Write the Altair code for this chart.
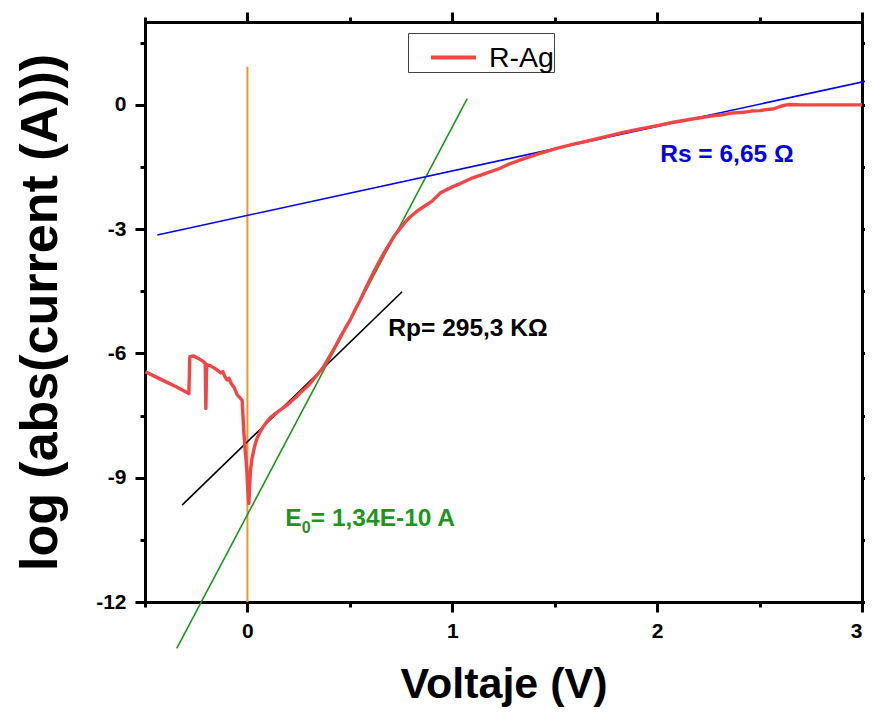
import altair as alt
import pandas as pd

# ---------------- data ----------------
voltage = [-0.498, -0.45, -0.40, -0.35, -0.30, -0.286, -0.281, -0.262, -0.24, -0.22,
           -0.206, -0.203, -0.199, -0.18, -0.16, -0.148, -0.13, -0.12, -0.11, -0.10,
           -0.09, -0.08, -0.065, -0.05, -0.04, -0.026, -0.018, -0.010, -0.005, 0.002,
           0.007, 0.011, 0.015, 0.022, 0.031, 0.039, 0.047, 0.063, 0.08, 0.096,
           0.112, 0.14, 0.161, 0.19, 0.21, 0.24, 0.259, 0.285, 0.307, 0.34,
           0.372, 0.405, 0.43, 0.454, 0.478, 0.502, 0.525, 0.551, 0.575, 0.60,
           0.625, 0.65, 0.675, 0.698, 0.72, 0.746, 0.77, 0.795, 0.83, 0.86,
           0.90, 0.941, 1.0, 1.039, 1.10, 1.153, 1.234, 1.267, 1.35, 1.429,
           1.51, 1.592, 1.672, 1.755, 1.84, 1.917, 2.0, 2.08, 2.15, 2.21,
           2.28, 2.32, 2.36, 2.42, 2.46, 2.502, 2.54, 2.566, 2.60, 2.63,
           2.649, 2.70, 2.80, 2.90, 3.0]
log_current = [-6.44, -6.56, -6.68, -6.80, -6.93, -6.97, -6.08, -6.06, -6.12, -6.18,
               -6.24, -7.33, -6.27, -6.30, -6.36, -6.40, -6.47, -6.44, -6.56, -6.64,
               -6.60, -6.72, -6.82, -7.00, -7.05, -7.13, -7.85, -8.40, -8.65, -9.30,
               -9.62, -9.20, -8.82, -8.55, -8.33, -8.17, -8.05, -7.88, -7.75, -7.64,
               -7.55, -7.44, -7.36, -7.26, -7.17, -7.04, -6.94, -6.83, -6.72, -6.52,
               -6.32, -6.04, -5.82, -5.60, -5.39, -5.19, -4.95, -4.71, -4.45, -4.20,
               -3.95, -3.72, -3.50, -3.32, -3.14, -2.98, -2.83, -2.70, -2.56, -2.46,
               -2.33, -2.13, -1.98, -1.90, -1.76, -1.67, -1.53, -1.45, -1.30, -1.17,
               -1.05, -0.95, -0.86, -0.76, -0.66, -0.58, -0.50, -0.42, -0.36, -0.31,
               -0.26, -0.24, -0.20, -0.18, -0.15, -0.14, -0.11, -0.10, -0.04, 0.0,
               0.01, 0.0, 0.0, 0.0, 0.0]
series_name = "R-Ag"

# fitted straight lines (end points)
rs_fit_v = [-0.44, 3.1]
rs_fit_logi = [-3.14, 0.66]
rp_fit_v = [-0.319, 0.755]
rp_fit_logi = [-9.66, -4.51]
e0_fit_v = [-0.345, 1.073]
e0_fit_logi = [-13.12, 0.15]
zero_v = [0.0, 0.0]
zero_logi = [-12.0, 0.92]

# annotations: (voltage, log current) anchor of each label
rs_label = ["Rs = 6,65 \u03a9"]
rs_pos = [2.015, -1.38]
rp_label = ["Rp= 295,3 K\u03a9"]
rp_pos = [0.688, -5.58]
e0_main = ["E"]
e0_sub = ["0"]
e0_rest = ["= 1,34E-10 A"]
e0_pos = [0.185, -10.17]

x_ticks = [-0.5, 0, 0.5, 1, 1.5, 2, 2.5, 3]
y_ticks = [-12, -10.5, -9, -7.5, -6, -4.5, -3, -1.5, 0, 1.5]
x_domain = [-0.5, 3.0]
y_domain = [-12.0, 2.0]

# ---------------- styling ----------------
FONT = "Liberation Sans"
RED = "#f24545"
GREEN = "#1e961e"
BLUE = "#0000ee"
ORANGE = "#f7931e"
ANN_SIZE = 24.5

xs = alt.Scale(domain=x_domain, nice=False, zero=False)
ys = alt.Scale(domain=y_domain, nice=False, zero=False)

common_axis = dict(
    domainColor="black", domainWidth=3, domainCap="square",
    tickColor="black", tickWidth=3, grid=False,
    labelFont=FONT, labelFontSize=21, labelFontWeight="bold", labelColor="black",
    labelOverlap=False,
    titleFont=FONT, titleFontWeight="bold", titleColor="black",
)


def x_axis(orient, show):
    kw = dict(common_axis)
    if show:
        kw.update(title="Voltaje (V)", titleFontSize=43, titlePadding=22,
                  labelPadding=8, labelFlush=True,
                  labelExpr="datum.value % 1 == 0 ? '' + datum.value : ''")
    else:
        kw.update(title=None, labels=False)
    return alt.Axis(values=x_ticks, orient=orient,
                    tickSize={"condition": {"test": "datum.value % 1 != 0", "value": 5},
                              "value": 10}, **kw)


def y_axis(orient, show):
    kw = dict(common_axis)
    if show:
        kw.update(title="log (abs(current (A)))", titleFontSize=52, titlePadding=28,
                  labelPadding=9, labelFlush=False,
                  labelExpr="datum.value % 3 == 0 ? '' + datum.value : ''")
    else:
        kw.update(title=None, labels=False)
    return alt.Axis(values=y_ticks, orient=orient,
                    tickSize={"condition": {"test": "datum.value % 3 != 0", "value": 5},
                              "value": 10}, **kw)


# ---------------- layers ----------------
curve_df = pd.DataFrame({"v": voltage, "logi": log_current,
                         "i": list(range(len(voltage))),
                         "series": [series_name] * len(voltage)})

curve = alt.Chart(curve_df).mark_line(strokeWidth=3.4, strokeJoin="round").encode(
    x=alt.X("v:Q", scale=xs, axis=x_axis("bottom", True)),
    y=alt.Y("logi:Q", scale=ys, axis=y_axis("left", True)),
    order="i:Q",
    color=alt.Color("series:N",
                    scale=alt.Scale(domain=[series_name], range=[RED]),
                    legend=alt.Legend(orient="none", legendX=263, legendY=11,
                                      title=None, symbolType="stroke",
                                      symbolSize=2025, symbolStrokeWidth=4,
                                      symbolOffset=21, labelOffset=11,
                                      labelExpr="datum.label + '\u00a0\u00a0'",
                                      labelFont=FONT, labelFontSize=28.5,
                                      labelColor="black", padding=0,
                                      strokeColor="#444", fillColor="white")),
)


def seg(v, l, color, width, xa=None, ya=None):
    df = pd.DataFrame({"v": v, "logi": l})
    return alt.Chart(df).mark_line(color=color, strokeWidth=width).encode(
        x=alt.X("v:Q", scale=xs, axis=xa),
        y=alt.Y("logi:Q", scale=ys, axis=ya),
    )


rs_line = seg(rs_fit_v, rs_fit_logi, BLUE, 1.6, x_axis("top", False), y_axis("right", False))
rp_line = seg(rp_fit_v, rp_fit_logi, "black", 1.6)
e0_line = seg(e0_fit_v, e0_fit_logi, GREEN, 1.6)
zero_line = seg(zero_v, zero_logi, ORANGE, 2)


def label(txt, pos, color, size, dx=0, dy=0):
    df = pd.DataFrame({"v": [pos[0]], "logi": [pos[1]], "t": txt})
    return alt.Chart(df).mark_text(align="left", baseline="alphabetic", font=FONT,
                                   fontSize=size, fontWeight="bold", color=color,
                                   dx=dx, dy=dy).encode(
        x=alt.X("v:Q", scale=xs, axis=None),
        y=alt.Y("logi:Q", scale=ys, axis=None),
        text="t:N",
    )


texts = [
    label(rs_label, rs_pos, BLUE, ANN_SIZE),
    label(rp_label, rp_pos, "black", ANN_SIZE),
    label(e0_main, e0_pos, GREEN, ANN_SIZE),
    label(e0_sub, e0_pos, GREEN, 16, dx=16.5, dy=7),
    label(e0_rest, e0_pos, GREEN, ANN_SIZE, dx=25.5),
]

chart = alt.layer(
    zero_line, rp_line, e0_line, rs_line, curve, *texts
).resolve_axis(x="independent", y="independent").properties(
    width=717, height=580,
    autosize=alt.AutoSizeParams(type="none"),
    padding={"left": 137, "top": 14, "right": 3, "bottom": 105},
    background="white",
).configure_view(stroke=None)

chart.save("out.html", embed_options={"renderer": "svg", "actions": False})
